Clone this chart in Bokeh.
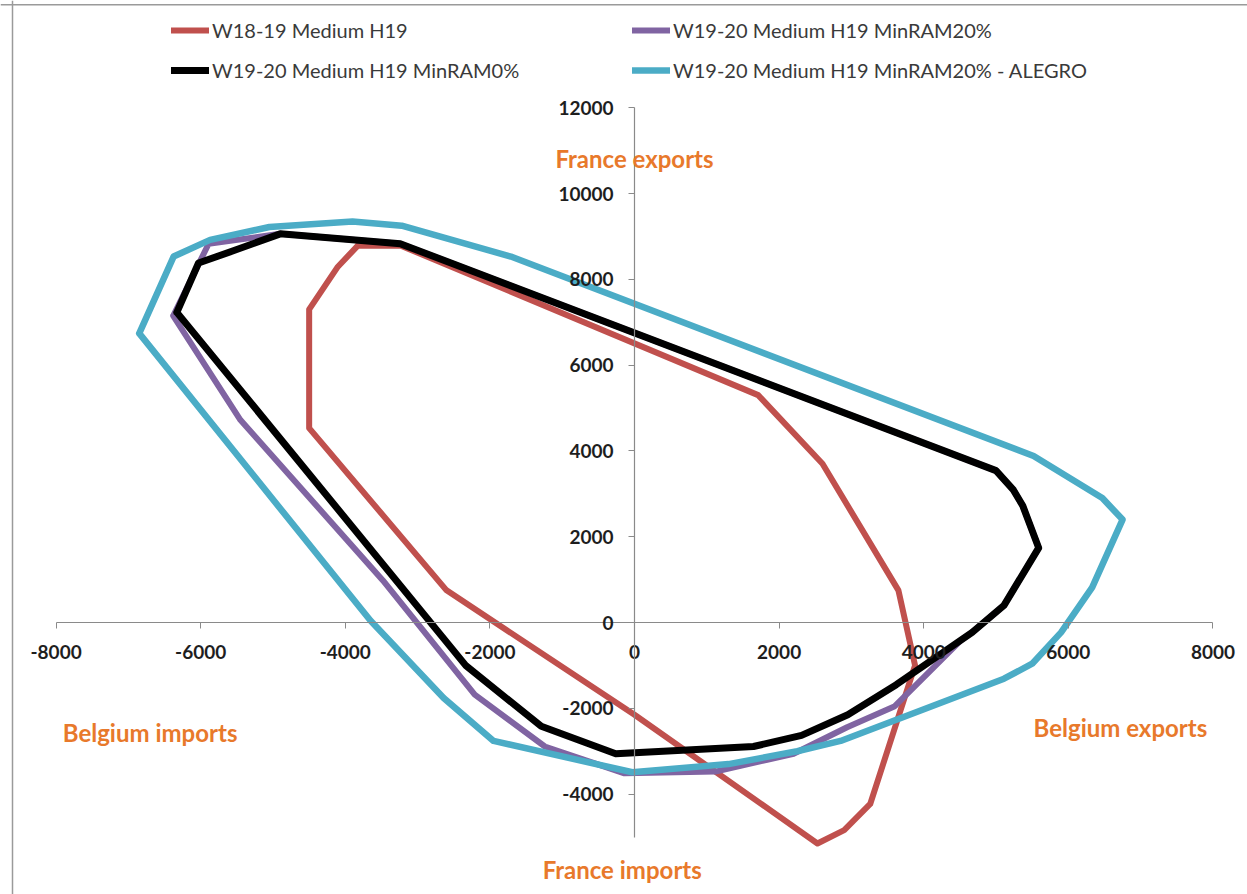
from bokeh.plotting import figure
from bokeh.models import (Range1d, LinearAxis, FixedTicker, Label, Legend,
                          LegendItem, Span)
from bokeh.embed import file_html
from bokeh.resources import INLINE

# Flow-based domain vertices (MW): x = Belgium net position, y = France net position
w1819_x = [-3830, -3240, 1710, 2600, 3650, 3880, 3260, 2900, 2530, 0, -2600,
           -4500, -4500, -4110, -3830]
w1819_y = [8780, 8790, 5300, 3700, 750, -1000, -4230, -4840, -5150, -2150, 750,
           4530, 7300, 8280, 8780]

ram20_x = [-6380, -5450, -3480, -2210, -1240, -140, 1120, 2200, 2940, 3600,
           4510, 4670, 5110, 5590, 5370, 5240, 5000, -3240, -4900, -5890, -6380]
ram20_y = [7150, 4720, 980, -1680, -2890, -3515, -3475, -3060, -2440, -1950,
           -420, -230, 400, 1740, 2720, 3090, 3540, 8830, 9060, 8830, 7150]

ram0_x = [-6330, -6030, -5540, -4900, -3240, 5000, 5240, 5370, 5590, 5110, 4670,
          3620, 2950, 2310, 1645, -260, -1290, -2330, -6330]
ram0_y = [7230, 8380, 8670, 9060, 8830, 3540, 3090, 2720, 1740, 400, -230,
          -1450, -2150, -2630, -2890, -3060, -2420, -1010, 7230]

alegro_x = [-6850, -6375, -5870, -5050, -3900, -3220, -1710, 5520, 6470, 6750,
            6330, 5900, 5500, 5110, 2850, 2250, 1300, -30, -1950, -2640, -3650,
            -6850]
alegro_y = [6740, 8530, 8920, 9220, 9350, 9250, 8530, 3880, 2900, 2400, 820,
            -230, -960, -1310, -2760, -3000, -3300, -3490, -2760, -1760, 40,
            6740]

series_names = ["W18-19 Medium H19", "W19-20 Medium H19 MinRAM20%",
                "W19-20 Medium H19 MinRAM0%", "W19-20 Medium H19 MinRAM20% - ALEGRO"]
series_colors = ["#C0504D", "#8064A2", "#000000", "#4BACC6"]

x_ticks = [-8000, -6000, -4000, -2000, 0, 2000, 4000, 6000, 8000]
y_ticks = [-4000, -2000, 0, 2000, 4000, 6000, 8000, 10000, 12000]

ORANGE = "#E8792B"
FONT = "Lato"

p = figure(width=1247, height=894, output_backend="svg", toolbar_location=None,
           x_range=Range1d(-8769, 8478), y_range=Range1d(-6340, 14499),
           x_axis_location=None, y_axis_location=None, min_border=0,
           outline_line_color=None, background_fill_color="white",
           border_fill_color="white")
p.grid.visible = False

# Axes crossing at the origin, labels written with a plain hyphen
axis_style = dict(axis_line_color="#8A8A8A", axis_line_width=1.2,
                  major_tick_line_color="#8A8A8A", major_tick_in=0,
                  major_tick_out=6, minor_tick_line_color=None,
                  major_label_text_font=FONT, major_label_text_font_style="bold",
                  major_label_text_font_size="19px",
                  major_label_text_color="#1E1E1E")
xaxis = LinearAxis(fixed_location=0, ticker=FixedTicker(ticks=x_ticks),
                   bounds=(-8000, 8000), major_label_standoff=16,
                   major_label_overrides={t: str(t) for t in x_ticks},
                   **axis_style)
yaxis = LinearAxis(fixed_location=0, ticker=FixedTicker(ticks=y_ticks),
                   bounds=(-5000, 12000), major_label_standoff=15,
                   major_label_overrides={t: str(t) for t in y_ticks},
                   **axis_style)
p.add_layout(xaxis, "below")
p.add_layout(yaxis, "left")

# Frame border lines on the left and top
p.add_layout(Span(location=-8603, dimension="height", line_color="#9A9A9A",
                  line_width=1.5))
p.add_layout(Span(location=14400, dimension="width", line_color="#9A9A9A",
                  line_width=1.5))

line_kw = dict(line_join="round", line_cap="round")
r_w1819 = p.line(w1819_x, w1819_y, line_color=series_colors[0], line_width=6, **line_kw)
r_ram20 = p.line(ram20_x, ram20_y, line_color=series_colors[1], line_width=6, **line_kw)
r_ram0 = p.line(ram0_x, ram0_y, line_color=series_colors[2], line_width=7, **line_kw)
r_alegro = p.line(alegro_x, alegro_y, line_color=series_colors[3], line_width=6.5, **line_kw)

# Direction annotations
for txt, x, y in [("France exports", 0, 10820),
                  ("Belgium imports", -6700, -2560),
                  ("Belgium exports", 6720, -2450),
                  ("France imports", -170, -5760)]:
    p.add_layout(Label(x=x, y=y, text=txt, text_align="center",
                       text_baseline="middle", text_font=FONT,
                       text_font_style="bold", text_font_size="24px",
                       text_color=ORANGE))

legend = Legend(items=[LegendItem(label=series_names[0], renderers=[r_w1819]),
                       LegendItem(label=series_names[2], renderers=[r_ram0]),
                       LegendItem(label=series_names[1], renderers=[r_ram20]),
                       LegendItem(label=series_names[3], renderers=[r_alegro])],
                orientation="vertical", ncols=2, location=(171, 812),
                glyph_width=38, glyph_height=18, label_standoff=3,
                label_width=404, label_height=18, spacing=16, padding=0,
                margin=0, border_line_color=None, background_fill_alpha=0,
                label_text_font=FONT, label_text_font_size="20px",
                label_text_color="#3A3A3A")
p.add_layout(legend, "center")

open("out.html", "w").write(file_html(p, INLINE))
